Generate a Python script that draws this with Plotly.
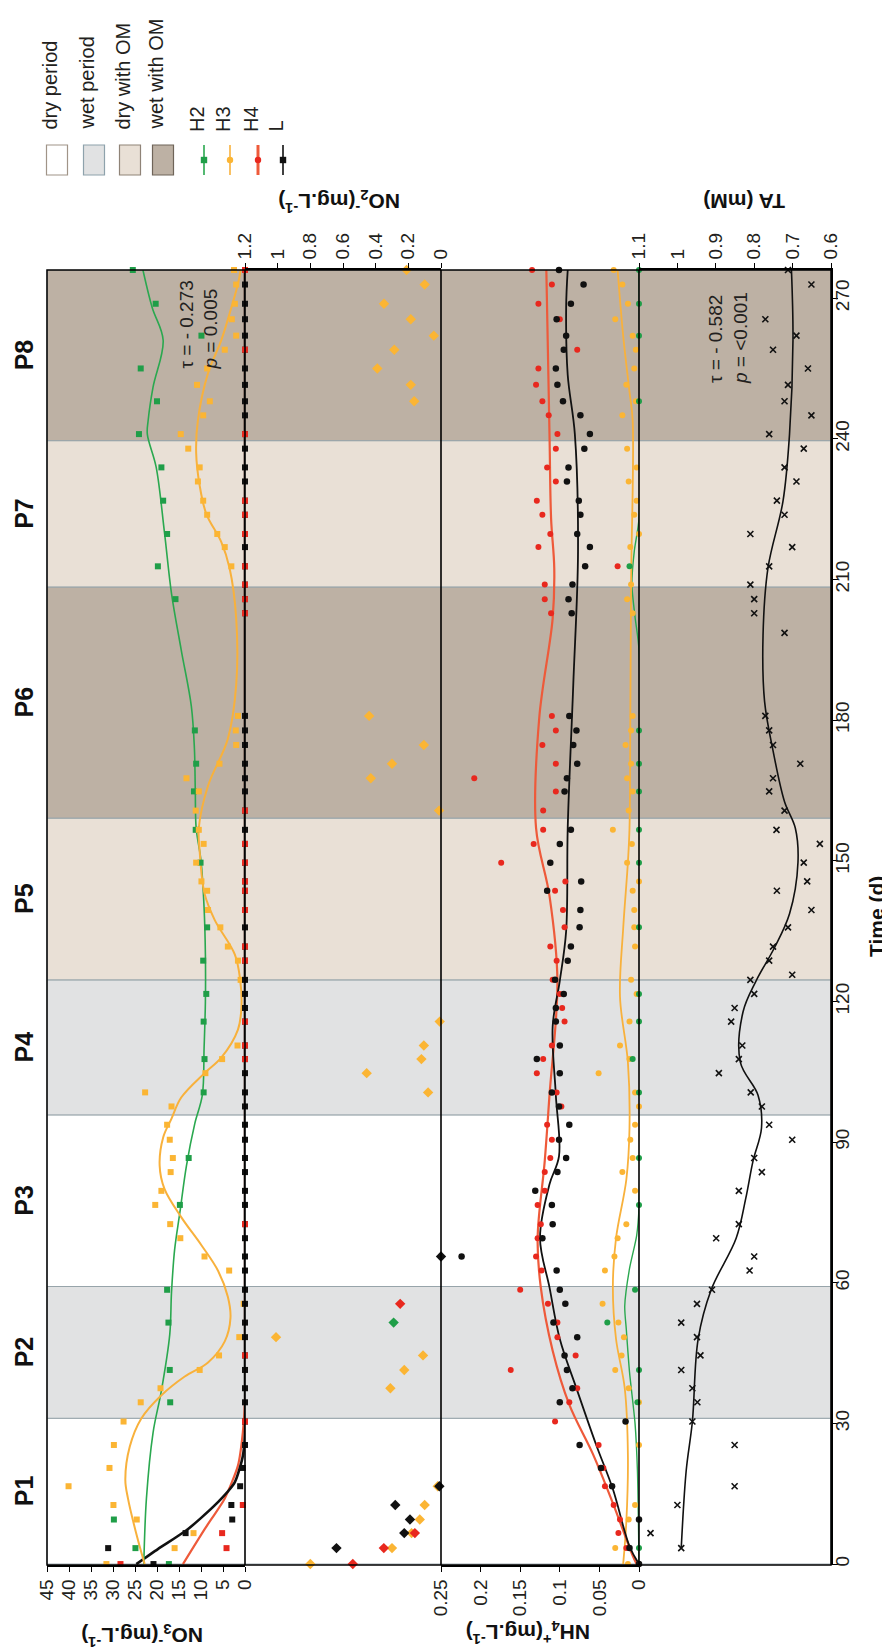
import plotly.graph_objects as go

FONT = "Arial, Liberation Sans, Helvetica, sans-serif"

# ---------------- periods ----------------
period_labels = ["P1", "P2", "P3", "P4", "P5", "P6", "P7", "P8"]
period_edges = [0, 31.1, 59.2, 95.8, 124.6, 159.1, 208.4, 239.6, 276]
period_types = ["dry period", "wet period", "dry period", "wet period",
                "dry with OM", "wet with OM", "dry with OM", "wet with OM"]
band_types = ["dry period", "wet period", "dry with OM", "wet with OM"]
band_fills = ["#ffffff", "#e1e2e3", "#e9e0d6", "#bdb1a4"]
band_borders = ["#a09488", "#8ea2ac", "#8f8377", "#6f6459"]

series_names = ["H2", "H3", "H4", "L"]
series_colors = ["#1f9e48", "#fbb534", "#e8281e", "#111111"]
line_colors = ["#2aa84f", "#f8b13c", "#ee5a3a", "#111111"]

# ---------------- sampling days ----------------
sample_days = [0, 3.4, 6.6, 9.5, 12.6, 16.6, 20.5, 25.4, 30.4, 34.5,
               37.5, 41.4, 44.5, 48.4, 51.5, 55.5, 58.5, 62.6, 65.6, 69.5,
               72.5, 76.6, 79.6, 83.6, 86.6, 90.5, 93.7, 97.6, 100.6, 104.7,
               107.7, 110.6, 115.7, 118.6, 121.6, 124.6, 128.7, 131.7, 135.8, 139.5,
               143.6, 145.6, 149.6, 153.6, 156.6, 160.7, 164.8, 167.6, 170.7, 174.7,
               177.8, 180.9, 202.8, 205.8, 208.9, 212.8, 216.9, 219.7, 223.8, 226.8,
               230.9, 233.9, 237.9, 241, 245, 248, 251.5, 255, 259, 262,
               265.5, 268.8, 272.9, 276]

# ---------------- NO3- (mg/L) ----------------
no3_h2_t = [0, 3.4, 9.5, 34.5, 41.4, 51.5, 58.5, 76.6, 86.6, 100.6, 107.7, 115.7, 121.6,
            128.7, 135.8, 149.6, 156.6, 164.8, 170.7, 177.8, 205.8, 212.8, 219.7, 226.8,
            233.9, 241, 248, 255, 262, 268.8, 276]
no3_h2 = [17.3, 24.9, 29.8, 17.0, 17.1, 17.4, 17.7, 14.8, 12.8, 9.4, 9.2, 9.4, 8.8,
          9.5, 8.6, 10.1, 11.2, 11.6, 11.1, 11.4, 15.8, 19.8, 17.7, 18.6,
          19.0, 24.1, 20.0, 23.7, 9.9, 20.3, 25.5]
no3_h3_t = [0, 3.4, 6.6, 9.5, 12.6, 16.6, 20.5, 25.4, 30.4, 34.5, 37.5, 41.4, 44.5, 48.4,
            55.5, 62.6, 65.6, 69.5, 72.5, 76.6, 79.6, 83.6, 86.6, 90.5, 93.7, 97.6, 100.6,
            104.7, 107.7, 110.6, 124.6, 128.7, 131.7, 135.8, 139.5, 143.6, 145.6, 149.6,
            153.6, 156.6, 160.7, 164.8, 167.6, 170.7, 174.7, 177.8, 180.9, 212.8, 216.9,
            219.7, 223.8, 226.8, 230.9, 233.9, 237.9, 241, 245, 248, 251.5, 255, 259, 262,
            265.5, 268.8, 272.9, 276]
no3_h3 = [31.5, 16.0, 11.7, 24.6, 29.9, 40.1, 30.8, 29.8, 27.6, 23.7, 19.2, 10.3, 5.9, 1.3,
          0.3, 3.6, 9.2, 14.7, 17.0, 20.4, 19.0, 16.9, 16.4, 17.1, 17.7, 16.7, 22.7,
          9.0, 5.2, 1.7, 1.0, 1.6, 3.9, 5.6, 8.4, 8.6, 9.9, 11.1,
          9.4, 10.5, 11.2, 10.5, 13.3, 5.8, 2.0, 2.1, 1.6, 3.1, 4.6,
          6.3, 8.6, 9.5, 10.7, 10.3, 12.9, 14.6, 9.5, 8.0, 10.9, 8.6, 4.6, 2.0,
          3.0, 2.3, 2.0, 2.5]
no3_l_t = sample_days
no3_l = [20.8, 31.1, 13.5, 2.9, 3.1, 1.1, 0.5, 0, 0, 0,
         0, 0, 0, 0, 0, 0, 0, 0, 0, 0,
         0, 0, 0, 0, 0, 0, 0, 0, 0, 0,
         0, 0, 0, 0, 0, 0, 0, 0, 0, 0,
         0, 0, 0, 0, 0, 0, 0, 0, 0, 0,
         0, 0, 0, 0, 0, 0, 0, 0, 0, 0,
         0, 0, 0, 0, 0, 0, 0, 0, 0, 0,
         0, 0, 0, 0]
no3_h4_t = [0, 3.4, 6.6, 12.6, 30.4, 44.5, 72.5, 107.7, 110.6, 115.7, 128.7, 131.7, 139.5,
            143.6, 145.6, 149.6, 153.6, 160.7, 202.8, 205.8, 208.9, 212.8, 219.7, 223.8,
            226.8, 241, 259, 276]
no3_h4 = [28.3, 4.2, 5.2, 0.5, 0, 0, 0, 0, 0, 0, 0, 0, 0,
          0, 0, 0, 0, 0, 0, 0, 0, 0, 0, 0,
          0, 0, 0, 0]

# fitted curves
no3_h2_fit_t = [0, 14, 28, 37, 49, 58, 67, 75, 85, 94, 100, 110, 120, 130, 140, 150, 157,
                165, 174, 183, 195, 207, 220, 234, 241, 244, 251, 261, 268, 276]
no3_h2_fit = [23.0, 22.4, 20.9, 19.0, 17.1, 16.7, 16.0, 14.8, 13.3, 11.4, 9.7, 9.3, 9.0,
              9.0, 9.3, 10.0, 11.1, 11.3, 11.5, 12.2, 14.5, 16.7, 18.3, 20.2, 22.2, 22.0,
              20.9, 18.6, 21.1, 23.2]
no3_h3_fit_t = [0, 5, 14, 18, 25, 31, 36, 40, 43, 47.5, 52.5, 57, 62.5, 68, 74, 80, 85, 91,
                95, 99.5, 104.7, 108, 114, 119, 124.6, 130, 137.4, 143, 152, 157, 166, 176,
                187.5, 201.7, 212.4, 218, 224, 230, 237, 244, 254, 261, 268, 273, 276]
no3_h3_fit = [22.8, 24.3, 26.6, 27.2, 26.2, 23.6, 19.0, 13.7, 8.4, 4.6, 3.3, 3.9, 6.1, 9.9,
              14.5, 18.3, 19.4, 18.6, 16.7, 14.5, 9.2, 5.4, 1.6, 0.8, 1.1, 2.3, 6.9, 9.2,
              10.3, 10.5, 8.4, 3.9, 2.0, 2.0, 3.5, 5.4, 8.8, 10.3, 11.1, 10.7, 8.4, 5.4,
              3.1, 1.6, 1.0]
no3_l_fit_t = [0, 3.2, 7.2, 12.5, 17.5, 23, 28, 40, 276]
no3_l_fit = [24.7, 19.8, 13.3, 6.9, 2.3, 0.5, 0, 0, 0]
no3_h4_fit_t = [0, 7.4, 14, 21, 28, 35, 50, 276]
no3_h4_fit = [14.1, 9.2, 4.6, 1.6, 0.5, 0, 0, 0]

# ---------------- NO2- (mg/L) ----------------
no2_h2_t = [51.5]
no2_h2 = [0.29]
no2_h3_t = [0, 3.4, 6.6, 9.5, 12.6, 16.6, 37.5, 41.4, 44.5, 48.4, 100.6, 104.7, 107.7,
            110.6, 115.7, 160.7, 167.6, 170.7, 174.7, 180.9, 248, 251.5, 255, 259, 262,
            265.5, 268.8, 272.9, 276]
no2_h3 = [0.80, 0.30, 0.18, 0.13, 0.10, 0.02, 0.31, 0.225, 0.11, 1.01, 0.079, 0.455, 0.12,
          0.105, 0.008, 0.012, 0.43, 0.30, 0.105, 0.44, 0.164, 0.185, 0.39, 0.286, 0.044,
          0.185, 0.349, 0.10, 0.211]
no2_h4_t = [0, 3.4, 6.6, 55.5]
no2_h4 = [0.54, 0.35, 0.16, 0.25]
no2_l_t = [3.4, 6.6, 9.5, 12.6, 16.6, 65.6]
no2_l = [0.64, 0.225, 0.19, 0.28, 0.01, 0.0]

# ---------------- NH4+ (mg/L) ----------------
nh4_h2_t = [3.4, 34.5, 41.4, 51.5, 58.5, 76.6, 86.6, 100.6, 107.7, 115.7, 121.6, 135.8,
            149.6, 156.6, 164.8, 170.7, 177.8, 212.8, 248, 262, 268.8, 276]
nh4_h2 = [0, 0.002, 0, 0.040, 0.005, 0, 0, 0, 0.008, 0, 0, 0,
          0, 0, 0, 0, 0, 0.012, 0, 0, 0, 0]
nh4_h3_t = [0, 3.4, 9.5, 12.6, 25.4, 34.5, 37.5, 41.4, 44.5, 48.4, 51.5, 55.5, 62.6, 65.6,
            69.5, 72.5, 79.6, 83.6, 86.6, 90.5, 93.7, 97.6, 100.6, 104.7, 107.7, 110.6,
            115.7, 121.6, 124.6, 131.7, 135.8, 139.5, 143.6, 145.6, 149.6, 153.6, 156.6,
            160.7, 164.8, 167.6, 170.7, 174.7, 177.8, 180.9, 202.8, 205.8, 208.9, 216.9,
            219.7, 223.8, 226.8, 230.9, 233.9, 237.9, 245, 248, 251.5, 255, 259, 262,
            265.5, 268.8, 272.9, 276]
nh4_h3 = [0.014, 0.030, 0.013, 0.005, 0, 0, 0.013, 0.030, 0.022, 0.019, 0.026, 0.046, 0.043,
          0.031, 0.027, 0.016, 0.005, 0.021, 0.008, 0.011, 0.005, 0, 0.005, 0.051, 0.012,
          0.024, 0.012, 0.003, 0.010, 0.005, 0.006, 0.006, 0.008, 0, 0.015, 0.009, 0.033,
          0.013, 0.008, 0.015, 0.010, 0.017, 0.010, 0.008, 0.008, 0.015, 0.010, 0.011,
          0, 0.006, 0.003, 0.013, 0.003, 0.015, 0.021, 0.004, 0.016, 0.006, 0.004, 0.008,
          0.030, 0.014, 0.021, 0.032]
nh4_h4_t = [3.4, 6.6, 9.5, 12.6, 16.6, 20.5, 25.4, 30.4, 34.5, 37.5, 41.4, 44.5, 48.4, 51.5,
            55.5, 58.5, 62.6, 65.6, 69.5, 72.5, 76.6, 79.6, 83.6, 86.6, 90.5, 93.7, 97.6,
            100.6, 104.7, 107.7, 110.6, 115.7, 118.6, 121.6, 124.6, 128.7, 131.7, 135.8,
            139.5, 143.6, 145.6, 149.6, 153.6, 156.6, 160.7, 164.8, 167.6, 170.7, 174.7,
            177.8, 180.9, 202.8, 205.8, 208.9, 212.8, 216.9, 219.7, 223.8, 226.8, 230.9,
            233.9, 237.9, 241, 245, 248, 251.5, 255, 259, 265.5, 268.8, 272.9, 276]
nh4_h4 = [0.016, 0.026, 0.024, 0.032, 0.043, 0.045, 0.051, 0.106, 0.088, 0.078, 0.162, 0.080,
          0.103, 0.103, 0.115, 0.150, 0.123, 0.130, 0.128, 0.124, 0.128, 0.119, 0.119, 0.112,
          0.110, 0.116, 0.098, 0.104, 0.129, 0.121, 0.110, 0.094, 0.097, 0.100, 0.109, 0.104,
          0.112, 0.094, 0.096, 0.106, 0.093, 0.174, 0.133, 0.121, 0.121, 0.105, 0.208, 0.105,
          0.122, 0.105, 0.110, 0.111, 0.119, 0.119, 0.027, 0.127, 0.112, 0.122, 0.129, 0.105,
          0.116, 0.105, 0.103, 0.114, 0.122, 0.130, 0.127, 0.078, 0.100, 0.127, 0.110, 0.135]
nh4_l_t = [0, 3.4, 9.5, 16.6, 20.5, 25.4, 30.4, 34.5, 37.5, 41.4, 44.5, 48.4, 51.5, 55.5,
           58.5, 62.6, 65.6, 69.5, 72.5, 76.6, 79.6, 83.6, 86.6, 90.5, 93.7, 97.6, 100.6,
           104.7, 107.7, 110.6, 115.7, 118.6, 121.6, 124.6, 128.7, 131.7, 135.8, 139.5,
           143.6, 145.6, 149.6, 153.6, 156.6, 164.8, 167.6, 170.7, 174.7, 177.8, 180.9,
           202.8, 205.8, 208.9, 212.8, 216.9, 219.7, 223.8, 226.8, 230.9, 233.9, 237.9,
           241, 245, 248, 251.5, 255, 259, 262, 265.5, 268.8, 272.9, 276]
nh4_l = [0, 0.012, 0, 0.034, 0.048, 0.075, 0.017, 0.100, 0.084, 0.091, 0.094, 0.078, 0.108,
         0.093, 0.100, 0.104, 0.224, 0.122, 0.109, 0.110, 0.131, 0.103, 0.092, 0.101, 0.088,
         0.101, 0.110, 0.100, 0.129, 0.100, 0.105, 0.105, 0.095, 0.106, 0.090, 0.086, 0.075,
         0.074, 0.116, 0.073, 0.112, 0.100, 0.086, 0.094, 0.091, 0.078, 0.083, 0.079, 0.088,
         0.085, 0.089, 0.084, 0.068, 0.062, 0.078, 0.074, 0.076, 0.091, 0.089, 0.069, 0.062,
         0.074, 0.096, 0.103, 0.105, 0.095, 0.092, 0.104, 0.086, 0.070, 0.101]

nh4_h2_fit_t = [0, 20, 30, 41, 50, 55, 63, 70, 76, 195, 202, 209, 216, 223, 276]
nh4_h2_fit = [0, 0.002, 0.005, 0.012, 0.016, 0.018, 0.012, 0.003, 0, 0, 0.005, 0.009,
              0.006, 0, 0]
nh4_h3_fit_t = [0, 9, 23, 37.5, 48, 59, 69.5, 82, 93, 107, 121, 135.5, 149.7, 157, 180,
                209, 244, 250, 262, 276]
nh4_h3_fit = [0.020, 0.016, 0.014, 0.018, 0.029, 0.033, 0.029, 0.016, 0.012, 0.014, 0.024,
              0.020, 0.014, 0.012, 0.011, 0.010, 0.008, 0.012, 0.020, 0.027]
nh4_h4_fit_t = [0, 1.8, 13, 23.4, 34, 45.5, 59, 69.5, 86, 100, 124.4, 142.5, 157, 180.4,
                201.7, 212.4, 223, 241, 276]
nh4_h4_fit = [0.003, 0.008, 0.033, 0.058, 0.088, 0.109, 0.124, 0.128, 0.119, 0.113, 0.103,
              0.113, 0.130, 0.126, 0.109, 0.107, 0.111, 0.113, 0.117]
nh4_l_fit_t = [0, 3.8, 16, 25.4, 37.5, 48, 59, 69.5, 81, 87, 100, 114.7, 124.4, 135, 157,
               187.5, 216, 241, 253.6, 268, 276]
nh4_l_fit = [0, 0.012, 0.033, 0.054, 0.079, 0.100, 0.113, 0.125, 0.113, 0.101, 0.105, 0.109,
             0.100, 0.092, 0.090, 0.083, 0.077, 0.081, 0.090, 0.092, 0.090]

# ---------------- TA (mM) ----------------
ta_t = [3.4, 6.6, 12.6, 16.6, 25.4, 30.4, 34.5, 37.5, 41.4, 44.5, 48.4, 51.5, 55.5, 58.5,
        62.6, 65.6, 69.5, 72.5, 79.6, 83.6, 86.6, 90.5, 93.7, 97.6, 100.6, 104.7, 107.7,
        110.6, 115.7, 118.6, 121.6, 124.6, 125.7, 128.7, 131.7, 135.8, 139.5, 143.6, 145.6,
        149.6, 153.6, 156.6, 160.7, 164.8, 167.6, 170.7, 174.7, 177.8, 180.9, 198.6, 202.8,
        205.8, 208.9, 212.8, 216.9, 219.7, 223.8, 226.8, 230.9, 233.9, 237.9, 241, 245, 248,
        251.5, 255, 259, 262, 265.5, 272.9, 276]
ta = [0.990, 1.070, 1.000, 0.851, 0.851, 0.961, 0.948, 0.961, 0.990, 0.940, 0.949, 0.990,
      0.949, 0.910, 0.812, 0.800, 0.899, 0.840, 0.840, 0.780, 0.800, 0.701, 0.761, 0.780,
      0.809, 0.892, 0.840, 0.831, 0.860, 0.851, 0.800, 0.810, 0.701, 0.761, 0.751, 0.712,
      0.651, 0.741, 0.662, 0.671, 0.629, 0.742, 0.721, 0.761, 0.751, 0.680, 0.751, 0.761,
      0.771, 0.721, 0.800, 0.800, 0.810, 0.761, 0.701, 0.810, 0.721, 0.741, 0.690, 0.721,
      0.671, 0.761, 0.651, 0.721, 0.712, 0.660, 0.751, 0.690, 0.771, 0.651, 0.712]
ta_fit_t = [3.4, 20, 30.4, 48, 58.5, 69.5, 78, 86, 93, 100, 107, 117.8, 124.4, 131.5, 138.7,
            149.7, 157, 162.6, 173.5, 184, 198, 212.5, 226.7, 241, 261, 276]
ta_fit = [0.990, 0.977, 0.961, 0.946, 0.912, 0.847, 0.822, 0.803, 0.781, 0.790, 0.836, 0.829,
          0.795, 0.747, 0.708, 0.686, 0.693, 0.721, 0.751, 0.773, 0.777, 0.764, 0.725, 0.708,
          0.699, 0.703]

stats_no3 = ("- 0.273", "0.005")
stats_ta = ("- 0.582", "&lt;0.001")

# ---------------- axis ticks ----------------
no3_ticks = [45, 40, 35, 30, 25, 20, 15, 10, 5, 0]
no2_ticks = [1.2, 1, 0.8, 0.6, 0.4, 0.2, 0]
nh4_ticks = [0.25, 0.2, 0.15, 0.1, 0.05, 0]
ta_ticks = [1.1, 1, 0.9, 0.8, 0.7, 0.6]
time_ticks = [0, 30, 60, 90, 120, 150, 180, 210, 240, 270]

# ---------------- geometry (pixels) ----------------
W, H = 890, 1649
L0, R0, T0, B0 = 39, 823, 262, 1557
panel_px = [39, 237, 433, 631, 823]
doms = [(p - L0) / (R0 - L0) for p in panel_px]
ROT_DX = -7  # rotated annotations render a few px to the right of their anchor


def ax(x):
    return (x - L0) / (R0 - L0)


def ay(y):
    return (B0 - y) / (B0 - T0)


def check(a, b):
    if len(a) != len(b):
        raise ValueError(f"length mismatch {len(a)} vs {len(b)}")


fig = go.Figure()


def add_pts(t, v, xa, symbol, color, size):
    check(t, v)
    mk = dict(symbol=symbol, color=color, size=size)
    if symbol.startswith("x"):
        mk["line"] = dict(color=color, width=1.6)
    else:
        mk["line"] = dict(width=0)
    fig.add_trace(go.Scatter(x=v, y=t, xaxis=xa, yaxis="y", mode="markers",
                             marker=mk, cliponaxis=False, hoverinfo="skip"))


def add_fit(t, v, xa, color, width, smooth=1.0):
    check(t, v)
    fig.add_trace(go.Scatter(x=v, y=t, xaxis=xa, yaxis="y", mode="lines",
                             line=dict(color=color, width=width, shape="spline",
                                       smoothing=smooth),
                             cliponaxis=True, hoverinfo="skip"))


G, O, R, K = series_colors
GL, OL, RL, KL = line_colors

# NO3 panel
add_fit(no3_h4_fit_t, no3_h4_fit, "x", RL, 2.2, 0.6)
add_fit(no3_l_fit_t, no3_l_fit, "x", KL, 2.6, 0.6)
add_fit(no3_h2_fit_t, no3_h2_fit, "x", GL, 1.6)
add_fit(no3_h3_fit_t, no3_h3_fit, "x", OL, 2.0)
add_pts(no3_h2_t, no3_h2, "x", "square", G, 6)
add_pts(no3_h3_t, no3_h3, "x", "square", O, 6)
add_pts(no3_l_t, no3_l, "x", "square", K, 6)
add_pts(no3_h4_t, no3_h4, "x", "square", R, 6)

# NO2 panel
add_pts(no2_h3_t, no2_h3, "x2", "diamond", O, 8)
add_pts(no2_h4_t, no2_h4, "x2", "diamond", R, 8)
add_pts(no2_l_t, no2_l, "x2", "diamond", K, 8)
add_pts(no2_h2_t, no2_h2, "x2", "diamond", G, 8)

# NH4 panel
add_fit(nh4_h2_fit_t, nh4_h2_fit, "x3", GL, 1.4, 0.7)
add_fit(nh4_h3_fit_t, nh4_h3_fit, "x3", OL, 1.8)
add_fit(nh4_h4_fit_t, nh4_h4_fit, "x3", RL, 2.2)
add_fit(nh4_l_fit_t, nh4_l_fit, "x3", KL, 1.8)
add_pts(nh4_h3_t, nh4_h3, "x3", "circle", O, 6)
add_pts(nh4_h4_t, nh4_h4, "x3", "circle", R, 6)
add_pts(nh4_l_t, nh4_l, "x3", "circle", K, 6.5)
add_pts(nh4_h2_t, nh4_h2, "x3", "circle", G, 6)

# TA panel
add_fit(ta_fit_t, ta_fit, "x4", KL, 1.6)
add_pts(ta_t, ta, "x4", "x-thin", K, 6)

# ---------------- axes ----------------
tickfont = dict(family=FONT, size=19, color="#231f20")


def xaxis(dom, rng, ticks, side):
    return dict(domain=dom, range=rng, anchor="y", side=side,
                tickmode="array", tickvals=ticks, ticktext=[f"{t:g}" for t in ticks],
                tickangle=-90, ticks="outside", ticklen=5, tickwidth=1.2, tickcolor="black",
                tickfont=tickfont, showgrid=False, zeroline=False,
                showline=True, linecolor="black", linewidth=1.5, fixedrange=True)


fig.update_layout(
    width=W, height=H,
    margin=dict(l=L0, r=W - R0, t=T0, b=H - B0),
    paper_bgcolor="white", plot_bgcolor="white", showlegend=False,
    font=dict(family=FONT, size=19, color="#231f20"),
    xaxis=xaxis([doms[0], doms[1]], [45, 0], no3_ticks, "bottom"),
    xaxis2=xaxis([doms[1], doms[2]], [1.2, 0], no2_ticks, "top"),
    xaxis3=xaxis([doms[2], doms[3]], [0.25, 0], nh4_ticks, "bottom"),
    xaxis4=xaxis([doms[3], doms[4]], [1.1, 0.6], ta_ticks, "top"),
    yaxis=dict(domain=[0, 1], range=[-0.2, 276], anchor="x4", side="right",
               tickmode="array", tickvals=time_ticks, ticktext=[str(t) for t in time_ticks],
               tickangle=-90, ticks="outside", ticklen=5, tickwidth=1.2, tickcolor="black",
               ticklabelstandoff=-12,
               tickfont=tickfont, showgrid=False, zeroline=False,
               showline=True, linecolor="black", linewidth=1.5, fixedrange=True),
)

shapes = []
# period bands
for i, ptype in enumerate(period_types):
    k = band_types.index(ptype)
    shapes.append(dict(type="rect", xref="paper", yref="y", x0=0, x1=1,
                       y0=period_edges[i], y1=period_edges[i + 1],
                       fillcolor=band_fills[k], line=dict(color="#97a4aa", width=1),
                       layer="below"))
# panel dividers + frame
for d in doms[1:4]:
    shapes.append(dict(type="line", xref="paper", yref="paper", x0=d, x1=d, y0=0, y1=1,
                       line=dict(color="black", width=1.6), layer="above"))
shapes.append(dict(type="rect", xref="paper", yref="paper", x0=0, x1=1, y0=0, y1=1,
                   line=dict(color="black", width=1.5), fillcolor="rgba(0,0,0,0)",
                   layer="above"))

annotations = []

# legend: band boxes
leg_band_x = [49, 86, 122, 155]
for i, name in enumerate(band_types):
    cx = leg_band_x[i]
    shapes.append(dict(type="rect", xref="paper", yref="paper",
                       x0=ax(cx - 10.5), x1=ax(cx + 10.5), y0=ay(167), y1=ay(137),
                       fillcolor=band_fills[i], line=dict(color=band_borders[i], width=1.2)))
    annotations.append(dict(text=name, x=ax(cx + ROT_DX), y=ay(124), xref="paper",
                            yref="paper", textangle=-90, xanchor="center", yanchor="bottom",
                            showarrow=False, font=dict(family=FONT, size=20, color="#231f20")))
# legend: series glyphs
leg_ser_x = [196, 222, 250, 275]
leg_symbol = ["square", "circle", "circle", "square"]
leg_lw = [1.6, 1.6, 3.0, 1.6]
for i, name in enumerate(series_names):
    cx = leg_ser_x[i]
    shapes.append(dict(type="line", xref="paper", yref="paper", x0=ax(cx), x1=ax(cx),
                       y0=ay(167), y1=ay(137), line=dict(color=line_colors[i], width=leg_lw[i])))
    r = 3.2
    shapes.append(dict(type="rect" if leg_symbol[i] == "square" else "circle",
                       xref="paper", yref="paper", x0=ax(cx - r), x1=ax(cx + r),
                       y0=ay(152 + r), y1=ay(152 - r), fillcolor=series_colors[i],
                       line=dict(width=0)))
    annotations.append(dict(text=name, x=ax(cx + ROT_DX), y=ay(126), xref="paper",
                            yref="paper", textangle=-90, xanchor="center", yanchor="bottom",
                            showarrow=False, font=dict(family=FONT, size=20, color="#231f20")))

# period labels
for i, lab in enumerate(period_labels):
    annotations.append(dict(text=f"<b>{lab}</b>", x=ax(23 + ROT_DX), xref="paper",
                            y=(period_edges[i] + period_edges[i + 1]) / 2, yref="y",
                            textangle=-90, showarrow=False, xanchor="center", yanchor="middle",
                            font=dict(family=FONT, size=25, color="#111111")))

# axis titles (upside down)
titles = [
    ("<b>NO<sub>3</sub><sup>-</sup>(mg.L<sup>-1</sup>)</b>", 134, 1628),
    ("<b>NO<sub>2</sub><sup>-</sup>(mg.L<sup>-1</sup>)</b>", 331, 194),
    ("<b>NH<sub>4</sub><sup>+</sup>(mg.L<sup>-1</sup>)</b>", 520, 1625),
    ("<b>TA (mM)</b>", 736, 194),
]
for txt, x, y in titles:
    annotations.append(dict(text=txt, x=ax(x), y=ay(y), xref="paper", yref="paper",
                            textangle=180, showarrow=False, xanchor="center", yanchor="middle",
                            font=dict(family=FONT, size=21, color="#111111")))

annotations.append(dict(text="<b>Time (d)</b>", x=ax(875 + ROT_DX), xref="paper", y=138,
                        yref="y", textangle=-90, showarrow=False, xanchor="center",
                        yanchor="middle", font=dict(family=FONT, size=21, color="#111111")))

# Kendall statistics
for (tau, p), x, ybot in [(stats_no3, 197, 364), (stats_ta, 727, 378)]:
    annotations.append(dict(text=f"τ = {tau}<br><i>p</i> = {p}", x=ax(x + ROT_DX),
                            y=ay(ybot), xref="paper", yref="paper", textangle=-90,
                            align="left", xanchor="center", yanchor="bottom", showarrow=False,
                            font=dict(family=FONT, size=19, color="#231f20")))

fig.update_layout(shapes=shapes, annotations=annotations)
fig.write_html("out.html")
